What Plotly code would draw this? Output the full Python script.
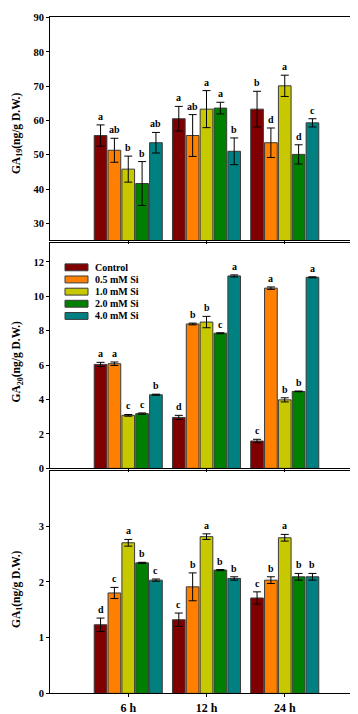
import plotly.graph_objects as go

# ---------------- data ----------------
time_labels = ["6 h", "12 h", "24 h"]
time_pos = [1, 2, 3]
series_names = ["Control", "0.5 mM Si", "1.0 mM Si", "2.0 mM Si", "4.0 mM Si"]
colors = ["#800000", "#FF8000", "#C8C800", "#008000", "#008080"]

# GA19 (ng/g D.W.)
ga19_control = [55.6, 60.5, 63.3]
ga19_05 = [51.3, 55.6, 53.5]
ga19_10 = [45.8, 63.3, 70.1]
ga19_20 = [41.6, 63.6, 50.1]
ga19_40 = [53.5, 51.0, 59.3]
ga19_err_control = [3.1, 3.6, 5.2]
ga19_err_05 = [3.5, 6.1, 4.3]
ga19_err_10 = [3.8, 5.4, 3.1]
ga19_err_20 = [6.4, 1.7, 2.8]
ga19_err_40 = [3.0, 3.9, 1.2]
ga19_letters_control = ["a", "a", "b"]
ga19_letters_05 = ["ab", "ab", "d"]
ga19_letters_10 = ["b", "a", "a"]
ga19_letters_20 = ["b", "a", "d"]
ga19_letters_40 = ["ab", "b", "c"]

# GA20 (ng/g D.W.)
ga20_control = [6.04, 2.96, 1.59]
ga20_05 = [6.08, 8.39, 10.47]
ga20_10 = [3.08, 8.50, 3.98]
ga20_20 = [3.18, 7.85, 4.47]
ga20_40 = [4.28, 11.18, 11.10]
ga20_err_control = [0.12, 0.12, 0.10]
ga20_err_05 = [0.10, 0.05, 0.07]
ga20_err_10 = [0.05, 0.33, 0.12]
ga20_err_20 = [0.04, 0.03, 0.02]
ga20_err_40 = [0.03, 0.06, 0.03]
ga20_letters_control = ["a", "d", "c"]
ga20_letters_05 = ["a", "b", "a"]
ga20_letters_10 = ["c", "b", "b"]
ga20_letters_20 = ["c", "c", "b"]
ga20_letters_40 = ["b", "a", "a"]

# GA1 (ng/g D.W.)
ga1_control = [1.23, 1.32, 1.71]
ga1_05 = [1.80, 1.91, 2.03]
ga1_10 = [2.70, 2.81, 2.79]
ga1_20 = [2.34, 2.21, 2.09]
ga1_40 = [2.03, 2.06, 2.09]
ga1_err_control = [0.12, 0.12, 0.11]
ga1_err_05 = [0.10, 0.25, 0.06]
ga1_err_10 = [0.06, 0.05, 0.06]
ga1_err_20 = [0.01, 0.01, 0.06]
ga1_err_40 = [0.02, 0.03, 0.06]
ga1_letters_control = ["d", "c", "c"]
ga1_letters_05 = ["c", "b", "b"]
ga1_letters_10 = ["a", "a", "a"]
ga1_letters_20 = ["b", "b", "b"]
ga1_letters_40 = ["c", "b", "b"]

panels = [
    dict(title="GA<sub>19</sub>(ng/g D.W.)",
         vals=[ga19_control, ga19_05, ga19_10, ga19_20, ga19_40],
         errs=[ga19_err_control, ga19_err_05, ga19_err_10, ga19_err_20, ga19_err_40],
         lets=[ga19_letters_control, ga19_letters_05, ga19_letters_10, ga19_letters_20, ga19_letters_40],
         yrange=[25, 90.05], tickvals=[30, 40, 50, 60, 70, 80, 90],
         dom_px=(4.5, 231), title_y=122),
    dict(title="GA<sub>20</sub>(ng/g D.W.)",
         vals=[ga20_control, ga20_05, ga20_10, ga20_20, ga20_40],
         errs=[ga20_err_control, ga20_err_05, ga20_err_10, ga20_err_20, ga20_err_40],
         lets=[ga20_letters_control, ga20_letters_05, ga20_letters_10, ga20_letters_20, ga20_letters_40],
         yrange=[0, 13.07], tickvals=[0, 2, 4, 6, 8, 10, 12],
         dom_px=(234, 462.5), title_y=354),
    dict(title="GA<sub>1</sub>(ng/g D.W.)",
         vals=[ga1_control, ga1_05, ga1_10, ga1_20, ga1_40],
         errs=[ga1_err_control, ga1_err_05, ga1_err_10, ga1_err_20, ga1_err_40],
         lets=[ga1_letters_control, ga1_letters_05, ga1_letters_10, ga1_letters_20, ga1_letters_40],
         yrange=[0, 3.99], tickvals=[0, 1, 2, 3],
         dom_px=(465, 691), title_y=585),
]

# ---------------- layout constants ----------------
W, H = 358, 714
FONT = "Liberation Serif, Times New Roman, serif"
slot = 0.177
bw = 0.162
x_dom = [42 / W, 355 / W]

fig = go.Figure()
annotations = []
shapes = []

for p, pan in enumerate(panels):
    xa = "x" if p == 0 else f"x{p+1}"
    ya = "y" if p == 0 else f"y{p+1}"
    for i in range(5):
        off = (i - 2) * slot - bw / 2
        fig.add_trace(go.Bar(
            x=time_pos, y=pan["vals"][i], name=series_names[i],
            xaxis=xa, yaxis=ya, width=bw, offset=off,
            marker=dict(color=colors[i], line=dict(color="#3a3a3a", width=1)),
            error_y=dict(type="data", array=pan["errs"][i], color="black",
                         thickness=1, width=4),
            showlegend=False,
        ))
        for k in range(3):
            annotations.append(dict(
                x=time_pos[k] + (i - 2) * slot, y=pan["vals"][i][k] + pan["errs"][i][k],
                xref=xa, yref=ya, text=pan["lets"][i][k], showarrow=False,
                yanchor="bottom", yshift=1,
                font=dict(family=FONT, size=10, color="black", weight="bold"),
            ))
    top, bot = pan["dom_px"]
    dom = [1 - bot / H, 1 - top / H]
    xkey = "xaxis" if p == 0 else f"xaxis{p+1}"
    ykey = "yaxis" if p == 0 else f"yaxis{p+1}"
    fig.update_layout(**{
        xkey: dict(domain=x_dom, anchor=ya, range=[0, 4], tickvals=time_pos,
                   ticktext=time_labels, showticklabels=(p == 2),
                   ticks="outside", ticklen=3, tickwidth=1, tickcolor="black",
                   showline=True, linecolor="black", linewidth=1, mirror=True,
                   showgrid=False, zeroline=False, ticklabeloverflow="allow",
                   tickfont=dict(family=FONT, size=12, color="black", weight="bold")),
        ykey: dict(domain=dom, anchor=xa, range=pan["yrange"], tickvals=pan["tickvals"],
                   ticks="outside", ticklen=3, tickwidth=1, tickcolor="black",
                   showline=True, linecolor="black", linewidth=1, mirror=True,
                   showgrid=False, zeroline=False, ticklabeloverflow="allow",
                   tickfont=dict(family=FONT, size=10.5, color="black", weight="bold")),
    })
    annotations.append(dict(
        x=9 / W, y=1 - pan["title_y"] / H, xref="paper", yref="paper",
        text=pan["title"], textangle=-90, showarrow=False,
        xanchor="center", yanchor="middle",
        font=dict(family=FONT, size=11.5, color="black", weight="bold"),
    ))

# ---------------- manual legend (panel 2) ----------------
leg_rows = [258.3, 270.6, 283.0, 295.3, 307.7]
for i, yc in enumerate(leg_rows):
    shapes.append(dict(type="rect", xref="paper", yref="paper",
                       x0=57 / W, x1=80 / W, y0=1 - (yc + 3.5) / H, y1=1 - (yc - 3.5) / H,
                       fillcolor=colors[i], line=dict(color="#3a3a3a", width=1)))
    annotations.append(dict(
        x=85 / W, y=1 - yc / H, xref="paper", yref="paper", text=series_names[i],
        showarrow=False, xanchor="left", yanchor="middle",
        font=dict(family=FONT, size=10, color="black", weight="bold"),
    ))

fig.update_layout(
    width=W, height=H, margin=dict(l=0, r=0, t=0, b=0),
    paper_bgcolor="white", plot_bgcolor="white",
    barmode="overlay", showlegend=False,
    annotations=annotations, shapes=shapes,
)

fig.write_html("out.html")
